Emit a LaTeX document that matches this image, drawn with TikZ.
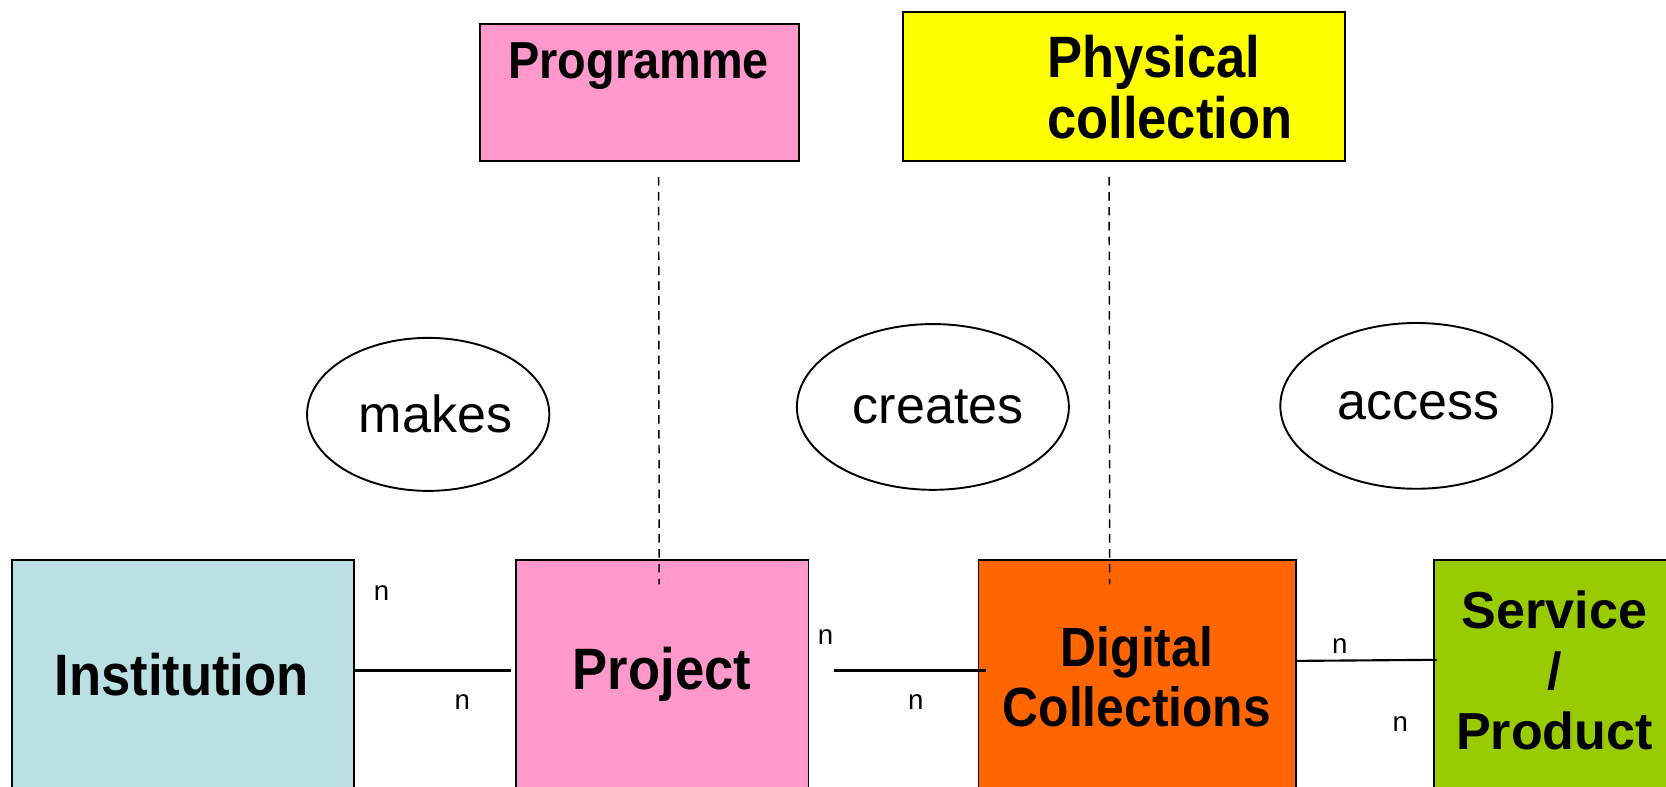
\documentclass[tikz,border=0pt]{standalone}
\usepackage{fontspec}
\setmainfont{Liberation Sans}
\newfontfamily\condfont[FakeStretch=0.9]{Liberation Sans}
\usetikzlibrary{shapes.geometric,calc}
\definecolor{instcol}{HTML}{BBE0E3}
\definecolor{pinkcol}{HTML}{FF99CC}
\definecolor{orangecol}{HTML}{FF6600}
\definecolor{greencol}{HTML}{99CC00}
\definecolor{yellowcol}{HTML}{FFFF00}
\tikzset{
  entity/.style={draw=black, line width=0.9pt, rectangle, inner sep=0pt, anchor=north west},
  rel/.style={draw=black, line width=0.9pt, ellipse, inner sep=0pt, font=\fontsize{24.5}{28}\selectfont},
  btext/.style={font=\condfont\bfseries\fontsize{26}{28.5}\selectfont, align=center, inner sep=0pt},
  card/.style={font=\fontsize{13}{15}\selectfont, inner sep=0pt},
  conn/.style={draw=black, line width=1pt},
  dashconn/.style={draw=black, line width=0.7pt, dash pattern=on 4pt off 3pt}
}
\begin{document}
\begin{tikzpicture}[x=0.5pt, y=-0.5pt]
\useasboundingbox (0,0) rectangle (1568,740);
\clip (0,0) rectangle (1568,740);
\fill[white] (0,0) rectangle (1568,740);
% entity boxes
\node[entity, fill=instcol, minimum width=161pt, minimum height=137pt] (inst) at (10,526) {};
\node[entity, fill=pinkcol, minimum width=137.5pt, minimum height=137pt] (proj) at (485,526) {};
\node[entity, fill=orangecol, minimum width=149.5pt, minimum height=137pt] (dig) at (920,526) {};
\node[entity, fill=greencol, minimum width=170pt, minimum height=137pt] (serv) at (1349,526) {};
\node[entity, fill=pinkcol, minimum width=150pt, minimum height=64.5pt] (prog) at (451,22) {};
\node[entity, fill=yellowcol, minimum width=208pt, minimum height=70.5pt] (phys) at (849,10) {};
% box texts
\node[btext, font=\condfont\bfseries\fontsize{27.5}{30}\selectfont] (instt) at (171,635) {Institution};
\node[btext, font=\condfont\bfseries\fontsize{27.5}{30}\selectfont] (projt) at (623,635) {Project};
\node[btext] (digt) at (1070,637) {Digital\\Collections};
\node[btext, font=\bfseries\fontsize{24.5}{28.5}\selectfont] (servt) at (1463,631) {Service\\/\\Product};
\node[btext, font=\condfont\bfseries\fontsize{24.5}{28}\selectfont] (progt) at (601,62) {Programme};
\node[btext, align=left, anchor=west, font=\condfont\bfseries\fontsize{27.5}{28.5}\selectfont] (physt) at (985,82) {Physical\\collection};
% relationships
\node[rel, minimum width=114pt, minimum height=72pt] (makes) at (403,390) {\hspace*{7pt}makes};
\node[rel, minimum width=128pt, minimum height=78pt] (creates) at (878,383) {\hspace*{5pt}creates};
\node[rel, minimum width=128pt, minimum height=78pt] (access) at (1333,382) {\hspace*{2pt}access};
% connectors
\draw[conn] ($(inst.north east)+(0,105)$) -- ($(proj.north west)+(-4,105)$);
\draw[conn] ($(proj.north east)+(23,105)$) -- ($(dig.north west)+(8,105)$);
\draw[conn] ($(dig.north east)+(0,96)$) -- ($(serv.north west)+(3,95)$);
\draw[dashconn] ($(prog.south)+(18,14)$) -- ($(proj.north)+(-3,24)$);
\draw[dashconn] ($(phys.south)+(-14,14)$) -- ($(dig.north)+(-26,24)$);
% cardinalities
\node[card] (n1) at (359,558) {n};
\node[card] (n2) at (435,661) {n};
\node[card] (n3) at (777,600) {n};
\node[card] (n4) at (862,661) {n};
\node[card] (n5) at (1261,608) {n};
\node[card] (n6) at (1318,681) {n};
\end{tikzpicture}
\end{document}
